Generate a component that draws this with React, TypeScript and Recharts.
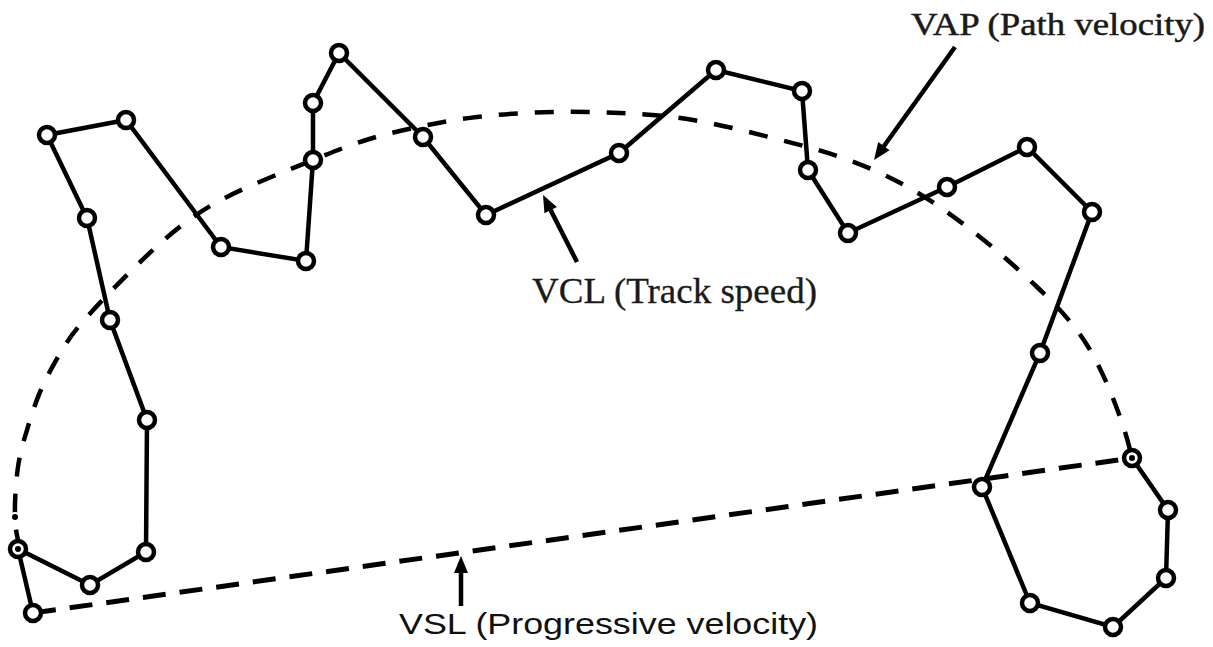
import { ComposedChart, Line, XAxis, YAxis, ReferenceLine } from 'recharts';

// track positions (x right, y down)
const vclX = [33, 18, 90, 146, 147, 110, 87, 47, 126, 221, 306, 313, 313, 339, 423, 486, 619, 716, 802, 808, 848, 947, 1027, 1092, 1040, 982, 1030, 1113, 1166, 1168, 1132];
const vclY = [613, 549, 585, 552, 420, 320, 218, 135, 120, 247, 261, 160, 103, 53, 137, 215, 153, 70, 91, 170, 233, 187, 147, 212, 353, 487, 603, 627, 578, 510, 458];

const vapX = [20, 15, 18, 27, 40, 58, 80, 130, 193, 257, 313, 363, 413, 477, 553, 620, 693, 773, 843, 913, 980, 1037, 1087, 1120, 1132];
const vapY = [548, 517, 467, 430, 392, 357, 325, 272, 217, 183, 160, 141, 128, 117, 112, 113, 120, 138, 158, 190, 237, 287, 345, 417, 458];

const vslX = [33, 1132];
const vslY = [613, 458];

const vcl = vclX.map((x, i) => ({ x, y: vclY[i] }));
const vap = vapX.map((x, i) => ({ x, y: vapY[i] }));
const vsl = vslX.map((x, i) => ({ x, y: vslY[i] }));

// annotation arrows: [fromX, fromY, toX, toY]
const arrows = [
  [955, 47, 874, 160],
  [577, 262, 543, 195],
  [461, 606, 461, 556],
];

const W = 1213;
const H = 647;

function Arrow(props: any) {
  const { x1, y1, x2, y2 } = props;
  const dx = x2 - x1;
  const dy = y2 - y1;
  const len = Math.sqrt(dx * dx + dy * dy);
  const ux = dx / len;
  const uy = dy / len;
  const hl = 17;
  const hw = 7;
  const bx = x2 - ux * hl;
  const by = y2 - uy * hl;
  const pts = `${x2},${y2} ${bx - uy * hw},${by + ux * hw} ${bx + uy * hw},${by - ux * hw}`;
  return (
    <g>
      <line x1={x1} y1={y1} x2={bx + ux * 2} y2={by + uy * 2} stroke="#000" strokeWidth={4.5} />
      <polygon points={pts} fill="#000" />
    </g>
  );
}

export default function App() {
  return (
    <div style={{ position: 'absolute', left: 0, top: 0, width: W, height: H, background: '#fff' }}>
      <ComposedChart width={W} height={H} margin={{ top: 0, right: 0, bottom: 0, left: 0 }}>
        <XAxis type="number" dataKey="x" domain={[0, W]} hide allowDataOverflow />
        <YAxis type="number" dataKey="y" domain={[0, H]} reversed hide allowDataOverflow />
        <Line
          data={vap}
          dataKey="y"
          type="natural"
          stroke="#000"
          strokeWidth={4.5}
          strokeDasharray="19 17"
          dot={false}
          isAnimationActive={false}
        />
        <Line
          data={vsl}
          dataKey="y"
          type="linear"
          stroke="#000"
          strokeWidth={5}
          strokeDasharray="23 14"
          dot={false}
          isAnimationActive={false}
        />
        <Line
          data={vcl}
          dataKey="y"
          type="linear"
          stroke="#000"
          strokeWidth={4.5}
          dot={{ r: 8, fill: '#fff', stroke: '#000', strokeWidth: 4.5 }}
          isAnimationActive={false}
        />
        {arrows.map((a, i) => (
          <ReferenceLine
            key={i}
            segment={[{ x: a[0], y: a[1] }, { x: a[2], y: a[3] }]}
            ifOverflow="visible"
            shape={(p: any) => <Arrow {...p} />}
          />
        ))}
      </ComposedChart>
      <svg width={W} height={H} style={{ position: 'absolute', left: 0, top: 0, pointerEvents: 'none' }}>
        <text x={911} y={35} fontFamily='"Liberation Serif", serif' fontSize={32} fill="#1a1a1a" stroke="#1a1a1a" strokeWidth={0.5} textLength={294} lengthAdjust="spacingAndGlyphs">
          VAP (Path velocity)
        </text>
        <text x={532} y={303} fontFamily='"Liberation Serif", serif' fontSize={36} fill="#1a1a1a" stroke="#1a1a1a" strokeWidth={0.3} textLength={285} lengthAdjust="spacingAndGlyphs">
          VCL (Track speed)
        </text>
        <text x={399} y={634} fontFamily='"Liberation Sans", sans-serif' fontSize={29} fill="#111" textLength={419} lengthAdjust="spacingAndGlyphs">
          VSL (Progressive velocity)
        </text>
      </svg>
    </div>
  );
}
